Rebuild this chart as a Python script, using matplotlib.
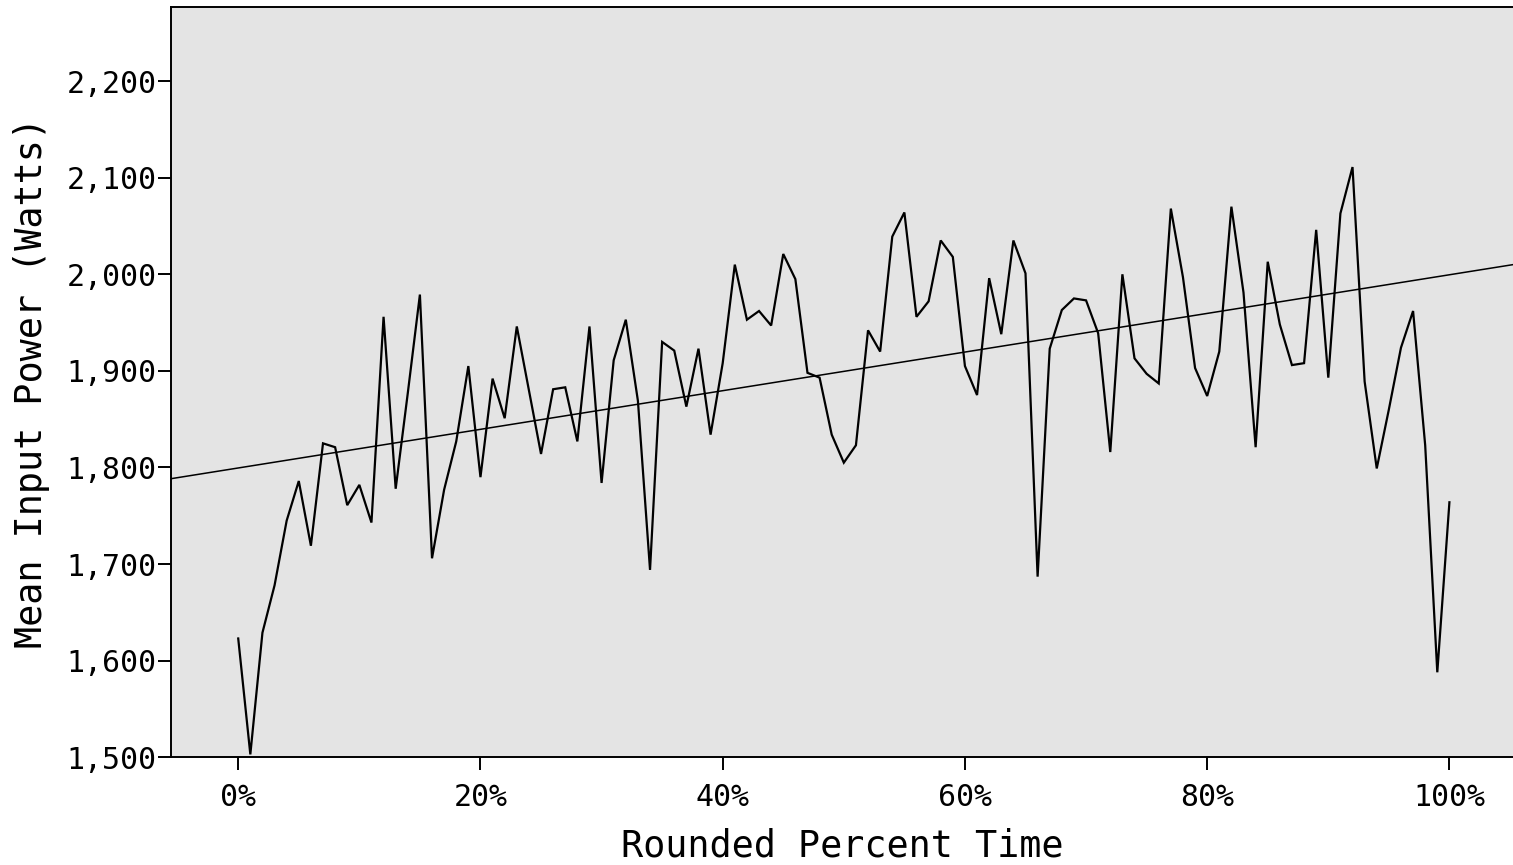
import matplotlib
matplotlib.use("Agg")
import matplotlib.pyplot as plt
import numpy as np
from matplotlib.ticker import FuncFormatter

# rounded percent of elapsed time, 0..100
pct_time = np.arange(0, 101)

# mean input power per rounded percent (Watts)
mean_power = [
    1623, 1503, 1629, 1678, 1745, 1786, 1719, 1825, 1821, 1761,
    1782, 1743, 1956, 1778, 1877, 1979, 1706, 1777, 1827, 1905,
    1790, 1892, 1851, 1946, 1880, 1814, 1881, 1883, 1827, 1946,
    1784, 1911, 1953, 1869, 1694, 1930, 1921, 1863, 1923, 1834,
    1908, 2010, 1953, 1962, 1947, 2021, 1995, 1898, 1893, 1834,
    1805, 1823, 1942, 1920, 2039, 2064, 1956, 1972, 2035, 2018,
    1905, 1875, 1996, 1938, 2035, 2001, 1687, 1923, 1963, 1975,
    1973, 1939, 1816, 2000, 1913, 1897, 1887, 2068, 1997, 1903,
    1874, 1920, 2070, 1981, 1821, 2013, 1948, 1906, 1908, 2046,
    1893, 2063, 2111, 1889, 1799, 1860, 1924, 1962, 1823, 1588,
    1764,
]

# total fit line (fitted on the raw samples, not the means)
fit_intercept = 1799.5
fit_slope = 2.0

x_ticks = [0, 20, 40, 60, 80, 100]
y_ticks = [1500, 1600, 1700, 1800, 1900, 2000, 2100, 2200]

plt.rcParams['font.family'] = ['DejaVu Sans Mono']

fig = plt.figure(figsize=(15.13, 8.65), dpi=100)
ax = fig.add_axes([171 / 1513, 107.7 / 865, 1 - 171 / 1513, 750.6 / 865])
ax.set_facecolor('#e4e4e4')

ax.plot(pct_time, mean_power, color='black', lw=1.6, solid_joinstyle='miter')

xlim = (-5.55, 105.25)
fit_x = np.array(xlim)
ax.plot(fit_x, fit_intercept + fit_slope * fit_x, color='black', lw=1.1)

ax.set_xlim(*xlim)
ax.set_ylim(1500, 2277)
ax.set_xticks(x_ticks)
ax.set_yticks(y_ticks)
ax.xaxis.set_major_formatter(FuncFormatter(lambda v, p: f"{v:.0f}%"))
ax.yaxis.set_major_formatter(FuncFormatter(lambda v, p: f"{v:,.0f}"))

ax.tick_params(axis='both', direction='out', length=9.5, width=1.4,
               labelsize=21.5, color='black')
ax.tick_params(axis='x', pad=9)
ax.tick_params(axis='y', pad=1)

for side in ['left', 'bottom', 'top']:
    ax.spines[side].set_linewidth(1.4)
ax.spines['right'].set_visible(False)

ax.set_xlabel('Rounded Percent Time', fontsize=26.5, labelpad=11)
ax.set_ylabel('Mean Input Power (Watts)', fontsize=26.5, labelpad=12)

fig.savefig('out.png', dpi=100)
